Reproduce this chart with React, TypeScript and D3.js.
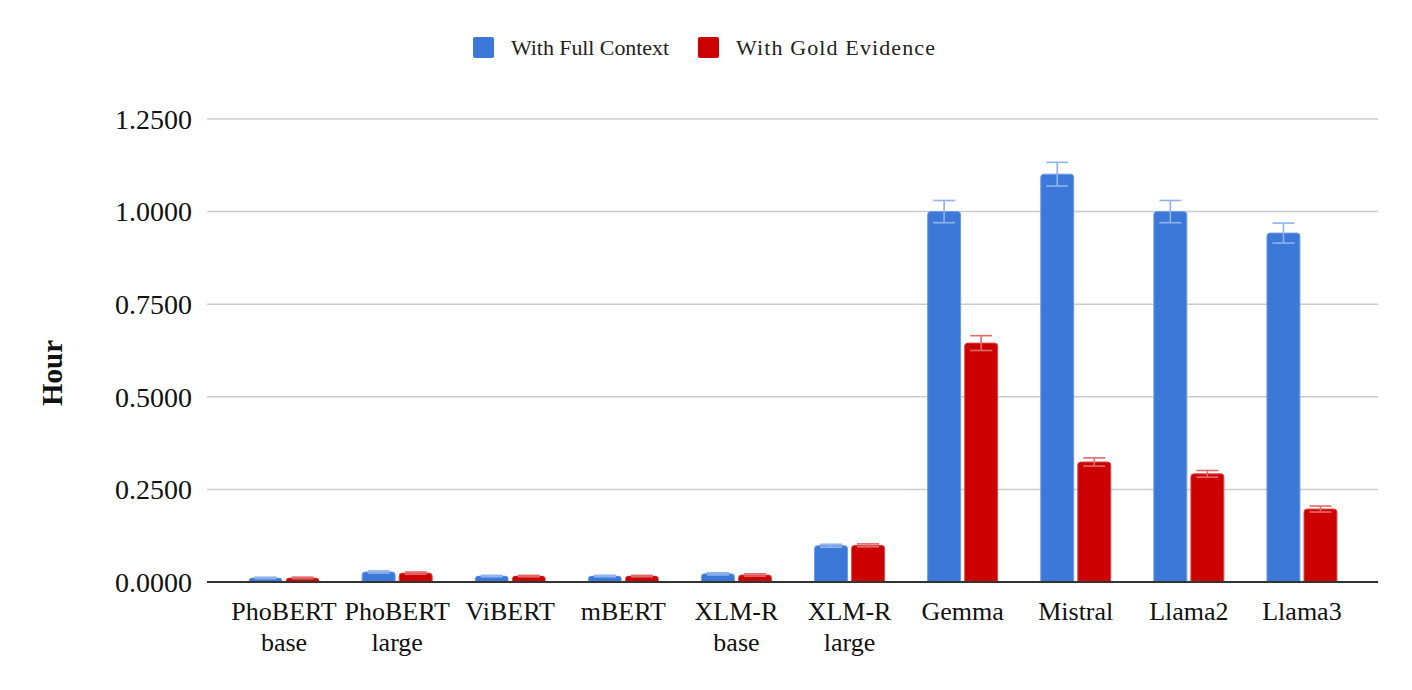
import React from "react";
import * as d3 from "d3";

const categories = [
  ["PhoBERT", "base"],
  ["PhoBERT", "large"],
  ["ViBERT"],
  ["mBERT"],
  ["XLM-R", "base"],
  ["XLM-R", "large"],
  ["Gemma"],
  ["Mistral"],
  ["Llama2"],
  ["Llama3"],
];
const seriesNames = ["With Full Context", "With Gold Evidence"];
const fullContext = [0.011, 0.027, 0.016, 0.016, 0.022, 0.098, 1.0, 1.101, 1.0, 0.942];
const fullContextErr = [0.002, 0.003, 0.002, 0.002, 0.003, 0.004, 0.03, 0.032, 0.03, 0.027];
const goldEvidence = [0.011, 0.024, 0.016, 0.016, 0.019, 0.099, 0.645, 0.324, 0.292, 0.197];
const goldEvidenceErr = [0.002, 0.003, 0.002, 0.002, 0.003, 0.004, 0.02, 0.011, 0.009, 0.008];
const yTicks = [0, 0.25, 0.5, 0.75, 1.0, 1.25];
const yLabel = "Hour";

const colors = ["#3c78d8", "#cc0000"];
const strokeColors = ["#6f9be3", "#dd4b4b"];
const errColors = ["#8fb3ee", "#e06a6a"];
const FONT = "'Liberation Serif', 'Times New Roman', serif";

export default function App() {
  const W = 1412;
  const H = 690;
  const left = 207;
  const right = 1378;
  const y = d3.scaleLinear().domain([0, 1.25]).range([582, 119]);
  const catKeys = categories.map((c) => c.join(" "));
  const x0 = d3.scaleBand<string>().domain(catKeys).range([227.5, 1358.5]).padding(0);
  const x1 = d3.scaleBand<string>().domain(seriesNames).range([-35, 35]).paddingInner(0.11);
  const data = [
    { name: seriesNames[0], values: fullContext, errs: fullContextErr },
    { name: seriesNames[1], values: goldEvidence, errs: goldEvidenceErr },
  ];
  const bw = x1.bandwidth();

  return (
    <svg width={W} height={H} style={{ display: "block", position: "absolute", left: 0, top: 0 }}>
      <rect x={0} y={0} width={W} height={H} fill="#fff" />
      {/* Legend */}
      <g fontFamily={FONT} fontSize={22} fill="#222">
        <rect x={473} y={37} width={21} height={21} rx={2} fill={colors[0]} />
        <text x={511} y={55} textLength={158}>{seriesNames[0]}</text>
        <rect x={698} y={37} width={21} height={21} rx={2} fill={colors[1]} />
        <text x={736} y={55} textLength={199}>{seriesNames[1]}</text>
      </g>
      {/* Grid */}
      {yTicks.map((t) => (
        <g key={t}>
          {t !== 0 && (
            <line x1={left} x2={right} y1={y(t)} y2={y(t)} stroke="#cccccc" strokeWidth={1.5} />
          )}
          <text
            x={192}
            y={y(t)}
            dy="0.35em"
            textAnchor="end"
            fontFamily={FONT}
            fontSize={28}
            fill="#111"
          >
            {t.toFixed(4)}
          </text>
        </g>
      ))}
      {/* Y label */}
      <text
        transform={`translate(62, 373) rotate(-90)`}
        textAnchor="middle"
        fontFamily={FONT}
        fontSize={29}
        fontWeight="bold"
        fill="#111"
      >
        {yLabel}
      </text>
      {/* Bars */}
      {catKeys.map((k, i) => {
        const cx = (x0(k) as number) + x0.bandwidth() / 2;
        return (
          <g key={k}>
            {data.map((s, si) => {
              const bx = cx + (x1(s.name) as number);
              const v = s.values[i];
              const e = s.errs[i];
              const top = y(v);
              const h = y(0) - top;
              const mid = bx + bw / 2;
              return (
                <g key={s.name}>
                  <path
                    d={`M${bx},${y(0)} L${bx},${top + 3} Q${bx},${top} ${bx + 3},${top} L${bx + bw - 3},${top} Q${bx + bw},${top} ${bx + bw},${top + 3} L${bx + bw},${y(0)} Z`}
                    fill={colors[si]}
                    stroke={strokeColors[si]}
                    strokeWidth={h > 6 ? 1 : 0.5}
                  />
                  <line x1={mid} x2={mid} y1={y(v + e)} y2={y(v - e)} stroke={errColors[si]} strokeWidth={1.6} />
                  <line x1={mid - 11} x2={mid + 11} y1={y(v + e)} y2={y(v + e)} stroke={errColors[si]} strokeWidth={1.6} />
                  <line x1={mid - 11} x2={mid + 11} y1={y(v - e)} y2={y(v - e)} stroke={errColors[si]} strokeWidth={1.6} />
                </g>
              );
            })}
            {categories[i].map((line, li) => (
              <text
                key={li}
                x={cx}
                y={620 + li * 31}
                textAnchor="middle"
                fontFamily={FONT}
                fontSize={26}
                fill="#111"
              >
                {line}
              </text>
            ))}
          </g>
        );
      })}
      {/* Baseline */}
      <line x1={left} x2={right} y1={y(0)} y2={y(0)} stroke="#333" strokeWidth={2} />
    </svg>
  );
}
